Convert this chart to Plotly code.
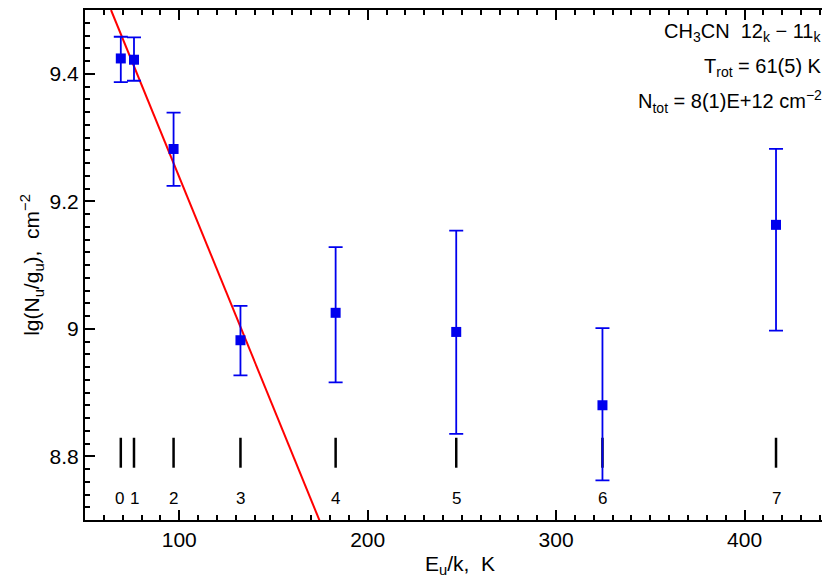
import plotly.graph_objects as go

E = [69, 76, 97, 132.5, 183, 247, 324.6, 416.7]
lgN = [9.424, 9.422, 9.282, 8.982, 9.025, 8.995, 8.880, 9.163]
err_hi = [9.458, 9.457, 9.339, 9.036, 9.128, 9.154, 9.001, 9.282]
err_lo = [9.387, 9.389, 9.224, 8.927, 8.916, 8.835, 8.762, 8.997]
k_labels = ["0", "1", "2", "3", "4", "5", "6", "7"]
fit_E = [63.8, 174.9]
fit_lg = [9.5, 8.696]
mark_y = [8.782, 8.829]
label_y = 8.734

F = "Liberation Sans"
fig = go.Figure()
fig.add_trace(go.Scatter(x=fit_E, y=fit_lg, mode="lines", line=dict(color="red", width=2), cliponaxis=True))
for e in E:
    fig.add_trace(go.Scatter(x=[e, e], y=mark_y, mode="lines", line=dict(color="black", width=2.5)))
fig.add_trace(go.Scatter(
    x=E, y=lgN, mode="markers",
    marker=dict(symbol="square", size=10, color="#0000ee"),
    error_y=dict(type="data", symmetric=False,
                 array=[h - v for h, v in zip(err_hi, lgN)],
                 arrayminus=[v - l for v, l in zip(lgN, err_lo)],
                 color="#0000ee", thickness=1.8, width=7)))
for e, t in zip(E, k_labels):
    dx = -1 if t == "0" else (1 if t == "1" else 0)
    fig.add_annotation(x=e, y=label_y, text=t, showarrow=False, xshift=dx,
                       font=dict(family=F, size=17, color="black"))
lines = ["CH<sub>3</sub>CN  12<sub>k</sub> − 11<sub>k</sub>",
         "T<sub>rot</sub> = 61(5) K",
         "N<sub>tot</sub> = 8(1)E+12 cm<sup>−2</sup>"]
for i, t in enumerate(lines):
    fig.add_annotation(xref="paper", yref="paper", x=0.985, y=0.955 - i * 0.067, text=t,
                       showarrow=False, xanchor="right", yanchor="middle",
                       font=dict(family=F, size=20, color="black"))
ax = dict(showline=True, linecolor="black", linewidth=2, mirror="allticks", ticks="inside",
          ticklen=10, tickwidth=1.5, tickcolor="black", showgrid=False, zeroline=False,
          automargin=False, tickfont=dict(family=F, size=21, color="black"))
fig.update_xaxes(range=[50, 448], tickvals=[100, 200, 300, 400],
                 minor=dict(dtick=10, tick0=0, ticks="inside", ticklen=5, tickcolor="black"),
                 title=dict(text="E<sub>u</sub>/k,  K", font=dict(family=F, size=21, color="black"), standoff=6), **ax)
fig.update_yaxes(range=[8.7, 9.5], tickvals=[8.8, 9.0, 9.2, 9.4], ticktext=["8.8", "9", "9.2", "9.4"],
                 minor=dict(dtick=0.02, tick0=8.7, ticks="inside", ticklen=5, tickcolor="black"),
                 title=dict(text="lg(N<sub>u</sub>/g<sub>u</sub>),  cm<sup>−2</sup>", font=dict(family=F, size=21, color="black"), standoff=4), **ax)
fig.update_layout(width=830, height=585, margin=dict(l=77, r=3, t=2, b=73),
                  plot_bgcolor="white", paper_bgcolor="white", showlegend=False)
fig.write_html("out.html")
